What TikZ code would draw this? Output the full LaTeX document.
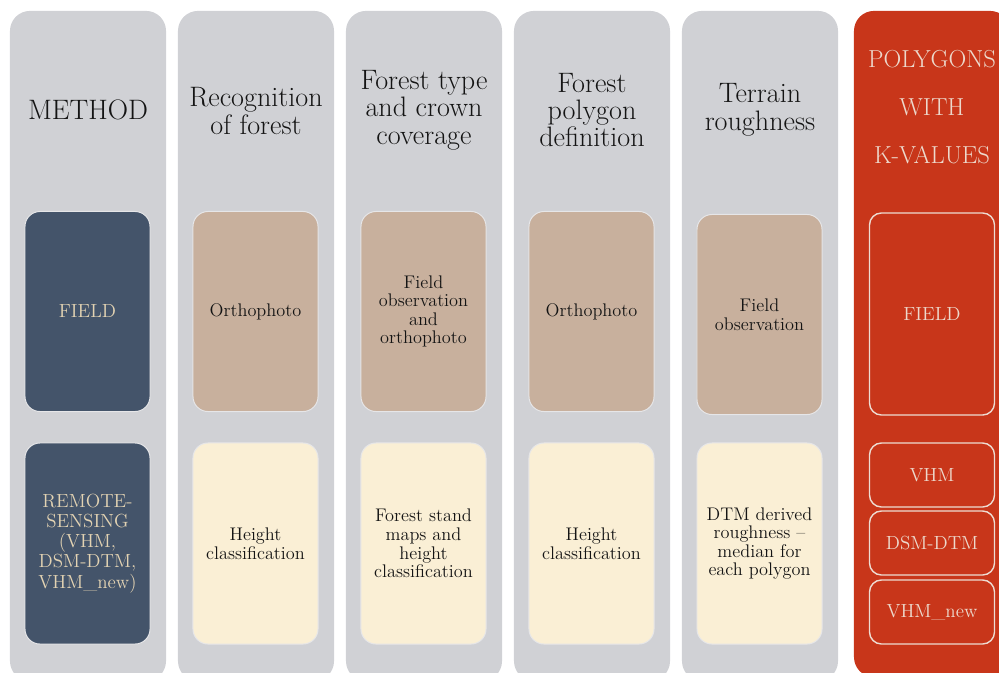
\documentclass[tikz,border=0pt]{standalone}
\usepackage{tikz}
\definecolor{colgray}{HTML}{D0D1D5}
\definecolor{navy}{HTML}{44546A}
\definecolor{navytext}{HTML}{E3D3B3}
\definecolor{tan}{HTML}{C8B09D}
\definecolor{cream}{HTML}{FAEFD5}
\definecolor{brick}{HTML}{C8361A}
\definecolor{redtext}{HTML}{EDD9CC}
\definecolor{redline}{HTML}{EEDCD2}
\definecolor{cardline}{HTML}{E6E6E8}
\definecolor{headtext}{HTML}{141414}

\begin{document}
\begin{tikzpicture}[x=0.025cm,y=-0.025cm,
    column/.style={fill=colgray,rounded corners=0.5cm,minimum width=3.9cm,minimum height=16.75cm,inner sep=0pt},
    head/.style={align=center,text=headtext,font=\fontsize{20}{19.5}\selectfont},
    card/.style={rounded corners=0.375cm,draw=cardline,line width=0.7pt,minimum width=3.125cm,minimum height=5cm,align=center,text=headtext,font=\fontsize{13}{13.2}\selectfont},
    navycard/.style={card,fill=navy,text=navytext,font=\fontsize{13.5}{14.3}\selectfont},
    tancard/.style={card,fill=tan},
    creamcard/.style={card,fill=cream},
    redcard/.style={rounded corners=0.3cm,draw=redline,line width=1pt,fill=brick,text=redtext,minimum width=3.125cm,minimum height=1.6cm,align=center,font=\fontsize{13.5}{14.3}\selectfont}]

    \useasboundingbox (0,0) rectangle (999,672);
    \clip (0,0) rectangle (999,672);

    % columns
    \node[column] (col1) at (88,346) {};
    \node[column] (col2) at (256,346) {};
    \node[column] (col3) at (424,346) {};
    \node[column] (col4) at (592,346) {};
    \node[column] (col5) at (760,346) {};
    \node[column,fill=brick,minimum height=16.65cm] (col6) at (932,344) {};

    % headings
    \node[head] (method) at (88,110) {METHOD};
    \node[head] (recog) at (256,111) {Recognition\\of forest};
    \node[head] (ftype) at (424,110) {Forest type\\and crown\\coverage};
    \node[head] (fpoly) at (592,110) {Forest\\polygon\\definition};
    \node[head] (rough) at (760,110) {Terrain\\roughness};
    \node[head,text=redtext,font=\fontsize{17.5}{34}\selectfont] (kval) at (932,107) {POLYGONS\\WITH\\K-VALUES};

    % field row
    \node[navycard] (field) at (87.5,311.5) {FIELD};
    \node[tancard] (ortho1) at (255.5,311.5) {Orthophoto};
    \node[tancard] (obsortho) at (423.5,311.5) {Field\\observation\\and\\orthophoto};
    \node[tancard] (ortho2) at (591.5,311.5) {Orthophoto};
    \node[tancard] (obs) at (759.5,314.5) {Field\\observation};

    % remote sensing row
    \node[navycard,minimum height=5.025cm] (remote) at (87.5,543.5) {REMOTE-\\SENSING\\(VHM,\\DSM-DTM,\\VHM\_new)};
    \node[creamcard,minimum height=5.025cm] (height1) at (255.5,543.5) {Height\\classification};
    \node[creamcard,minimum height=5.025cm] (standmaps) at (423.5,543.5) {Forest stand\\maps and\\height\\classification};
    \node[creamcard,minimum height=5.025cm] (height2) at (591.5,543.5) {Height\\classification};
    \node[creamcard,minimum height=5.025cm] (dtm) at (759.5,543.5) {DTM derived\\roughness --\\median for\\each polygon};

    % k-value boxes
    \node[redcard,minimum height=5.05cm] (kfield) at (932,314) {FIELD};
    \node[redcard] (vhm) at (932,475) {VHM};
    \node[redcard] (dsm) at (932,543) {DSM-DTM};
    \node[redcard] (vhmnew) at (932,612) {VHM\_new};
\end{tikzpicture}
\end{document}
